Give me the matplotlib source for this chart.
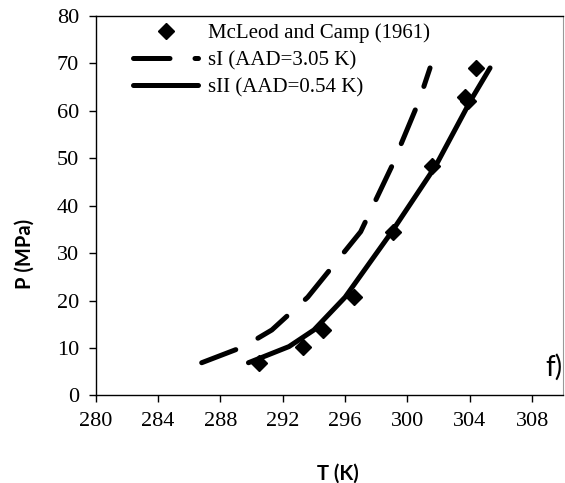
import matplotlib
matplotlib.use('Agg')
from matplotlib import pyplot as plt

# Hydrate dissociation data and model predictions
exp_T = [290.5, 293.3, 294.6, 296.6, 299.1, 301.6, 303.7, 303.9, 304.4]
exp_P = [6.9, 10.3, 13.8, 20.8, 34.5, 48.4, 62.8, 62.0, 69.0]

model_P = [6.9, 10.3, 13.8, 20.7, 34.5, 48.3, 62.1, 69.0]
sI_T = [286.8, 289.5, 291.3, 293.6, 297.0, 299.0, 300.75, 301.45]
sII_T = [289.8, 292.4, 294.0, 296.0, 299.0, 301.8, 304.05, 305.3]

SERIF = 'Liberation Serif'
SANS = 'Lato'

fig = plt.figure(figsize=(5.65, 4.83), dpi=100)
ax = fig.add_axes([0.1694, 0.1812, 0.8276, 0.7863])

ax.plot(exp_T, exp_P, linestyle='none', marker='D', markersize=8,
        color='black', label='McLeod and Camp (1961)', zorder=2)
ax.plot(sI_T, model_P, color='black', linewidth=3.6,
        linestyle=(0, (7.3, 5.0)), dash_capstyle='round',
        solid_capstyle='round', label='sI (AAD=3.05 K)', zorder=3)
ax.plot(sII_T, model_P, color='black', linewidth=3.6,
        solid_capstyle='round', label='sII (AAD=0.54 K)', zorder=3)

ax.set_xlim(280, 310)
ax.set_ylim(0, 80)
ax.set_xticks(range(280, 310, 4))
ax.set_yticks(range(0, 81, 10))
ax.tick_params(direction='out', length=5, width=1, colors='black', pad=7)
for lab in ax.get_xticklabels() + ax.get_yticklabels():
    lab.set_fontfamily(SERIF)
    lab.set_fontsize(16)

for side in ['left', 'bottom', 'top']:
    ax.spines[side].set_color('black')
    ax.spines[side].set_linewidth(1.0)
ax.spines['right'].set_color('#999999')
ax.spines['right'].set_linewidth(0.8)

fig.text(337.5 / 565, 1 - 474 / 483, 'T (K)', family=SANS, weight='bold',
         fontsize=14.5, ha='center', va='center')
fig.text(25 / 565, 1 - 254 / 483, 'P (MPa)', family=SANS, weight='bold',
         fontsize=14.5, ha='center', va='center', rotation=90)

ax.text(553.5 / 565, 1 - 367 / 483, 'f)', transform=fig.transFigure,
        family=SANS, fontsize=20, ha='center', va='center')

leg = ax.legend(loc='upper left', bbox_to_anchor=(0.054, 1.012),
                frameon=False, prop={'family': SERIF, 'size': 15},
                handlelength=3.1, handletextpad=0.5, labelspacing=0.35,
                borderaxespad=0.2)

fig.savefig('out.png', dpi=100)
